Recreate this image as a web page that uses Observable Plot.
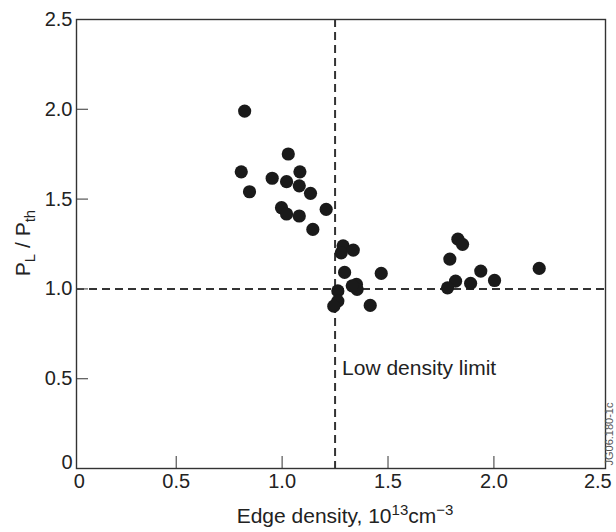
<!DOCTYPE html>
<html><head><meta charset="utf-8">
<script src="https://cdn.jsdelivr.net/npm/d3@7"></script>
<script src="https://cdn.jsdelivr.net/npm/@observablehq/plot@0.6"></script>
<style>
body{margin:0;background:#fff}
#chart{position:relative;width:616px;height:532px}
</style>
</head><body><div id="chart"></div>
<script>
// Data
const edgeDensity = [0.823, 0.807, 1.029, 1.084, 0.953, 1.021, 1.081, 0.846, 1.134, 0.997, 1.021, 1.081, 1.208, 1.145,
  1.288, 1.279, 1.336, 1.295, 1.468, 1.351, 1.354, 1.331, 1.263, 1.263, 1.244, 1.416,
  1.830, 1.852, 1.792, 1.938, 2.214, 1.819, 1.781, 1.890, 2.003];
const powerRatio = [1.99, 1.652, 1.751, 1.652, 1.616, 1.597, 1.574, 1.541, 1.532, 1.452, 1.417, 1.406, 1.443, 1.331,
  1.240, 1.201, 1.216, 1.092, 1.086, 1.025, 0.997, 1.017, 0.989, 0.932, 0.904, 0.908,
  1.277, 1.248, 1.166, 1.099, 1.114, 1.043, 1.006, 1.031, 1.047];
const xTicks = [0, 0.5, 1, 1.5, 2, 2.5];
const xTickLabels = ["0", "0.5", "1.0", "1.5", "2.0", "2.5"];
const yTicks = [0, 0.5, 1, 1.5, 2, 2.5];
const yTickLabels = ["0", "0.5", "1.0", "1.5", "2.0", "2.5"];
const densityLimit = [1.25];
const thresholdLevel = [1.0];
const annotationText = ["Low density limit"];
const annotationPos = [{x: 1.25, y: 0.56}];
const watermark = ["JG06.180-1c"];

const points = edgeDensity.map((x, i) => ({x, y: powerRatio[i]}));
const font = "'Liberation Sans', Arial, Helvetica, sans-serif";

const W = 616, H = 532, mL = 76, mR = 11, mT = 19, mB = 64;
const frameW = W - mL - mR, frameH = H - mT - mB;
const xFmt = d => xTickLabels[xTicks.indexOf(d)];
const yFmt = d => yTickLabels[yTicks.indexOf(d)];

const plot = Plot.plot({
  width: W, height: H,
  marginLeft: mL, marginRight: mR, marginTop: mT, marginBottom: mB,
  style: {fontFamily: font, fontSize: "20px", color: "#222", background: "white", overflow: "visible"},
  x: {domain: [0.029, 2.527]},
  y: {domain: [0, 2.5]},
  marks: [
    Plot.ruleX(densityLimit, {x: d => d, stroke: "#333", strokeWidth: 2, strokeDasharray: "8,5"}),
    Plot.ruleY(thresholdLevel, {y: d => d, stroke: "#333", strokeWidth: 2, strokeDasharray: "8,5"}),
    Plot.tickX(xTicks.slice(1, -1), {x: d => d, insetTop: frameH - 12, stroke: "#555", strokeWidth: 1.2}),
    Plot.tickY(yTicks.slice(1, -1), {y: d => d, insetRight: frameW - 12, stroke: "#555", strokeWidth: 1.2}),
    Plot.axisX({ticks: xTicks.slice(1, -1), tickSize: 0, tickPadding: 5, tickFormat: xFmt, label: null}),
    Plot.axisX({ticks: xTicks.slice(0, 1), tickSize: 0, tickPadding: 5, dx: 9, tickFormat: xFmt, label: null}),
    Plot.axisX({ticks: xTicks.slice(-1), tickSize: 0, tickPadding: 5, dx: -2, tickFormat: xFmt, label: null}),
    Plot.axisY({ticks: yTicks.slice(1), tickSize: 0, tickPadding: 4, tickFormat: yFmt, label: null}),
    Plot.axisY({ticks: yTicks.slice(0, 1), tickSize: 0, tickPadding: 4, dy: -6, tickFormat: yFmt, label: null}),
    Plot.frame({stroke: "#333", strokeWidth: 1.4}),
    Plot.dot(points, {x: "x", y: "y", r: 6.6, fill: "#1a1a1a", stroke: "none"}),
    Plot.text(annotationPos, {x: "x", y: "y", text: d => annotationText[0], textAnchor: "start", dx: 7, fontSize: 21, fill: "#222"}),
    Plot.text(watermark, {frameAnchor: "bottom-right", text: d => d, rotate: -90, textAnchor: "start", lineAnchor: "top", dx: 0, dy: -3, fontSize: 11, fill: "#555"})
  ]
});

document.getElementById("chart").appendChild(plot);

// Axis titles with sub/superscripts
const svg = d3.select(plot);
const ylab = svg.append("text")
  .attr("transform", "translate(30,243) rotate(-90)")
  .attr("text-anchor", "middle")
  .attr("font-family", font).attr("font-size", 21).attr("fill", "#222");
ylab.append("tspan").text("P");
ylab.append("tspan").attr("font-size", 15).attr("dy", 5).text("L");
ylab.append("tspan").attr("dy", -5).text(" / P");
ylab.append("tspan").attr("font-size", 15).attr("dy", 5).text("th");

const xlab = svg.append("text")
  .attr("x", 345).attr("y", 523)
  .attr("text-anchor", "middle")
  .attr("font-family", font).attr("font-size", 21).attr("fill", "#222");
xlab.append("tspan").text("Edge density, 10");
xlab.append("tspan").attr("font-size", 15).attr("dy", -8).text("13");
xlab.append("tspan").attr("dy", 8).text("cm");
xlab.append("tspan").attr("font-size", 15).attr("dy", -8).text("\u22123");
</script>
</body></html>
